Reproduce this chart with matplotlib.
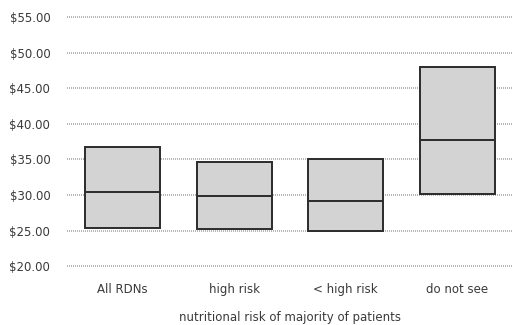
import numpy as np
import matplotlib
matplotlib.use("Agg")
import matplotlib.pyplot as plt

categories = ["All RDNs", "high risk", "< high risk", "do not see"]
q1 = [25.4, 25.2, 24.9, 30.2]
median = [30.4, 29.8, 29.2, 37.8]
q3 = [36.8, 34.6, 35.0, 48.0]
yticks = [20, 25, 30, 35, 40, 45, 50, 55]

fig = plt.figure(figsize=(5.13, 3.25), dpi=100)
ax = fig.add_axes([0.1306, 0.177, 0.8694, 0.776])

x = np.arange(len(categories))
w = 0.67
heights = np.array(q3) - np.array(q1)
ax.bar(x, heights, bottom=q1, width=w, color="#d3d3d3", edgecolor="#2b2b2b",
       linewidth=1.4, zorder=3)
ax.hlines(median, x - w / 2, x + w / 2, colors="#2b2b2b", linewidth=1.4, zorder=4)

ax.set_xlim(-0.5, len(categories) - 0.5)
ax.set_ylim(19.8, 55.3)
ax.set_yticks(yticks)
ax.set_yticklabels(["${:.2f}".format(v) for v in yticks])
ax.set_xticks(x)
ax.set_xticklabels(categories)
ax.yaxis.grid(True, linestyle=(0, (0.6, 0.6)), color="#a8a8a8", linewidth=1.2, zorder=0)
for s in ax.spines.values():
    s.set_visible(False)
ax.tick_params(length=0, labelsize=8.5, labelcolor="#3a3a3a")
ax.tick_params(axis="y", pad=12)
ax.tick_params(axis="x", pad=11)
ax.set_xlabel("nutritional risk of majority of patients", fontsize=8.5, color="#3a3a3a",
              labelpad=11)

fig.savefig("out.png", dpi=100)
